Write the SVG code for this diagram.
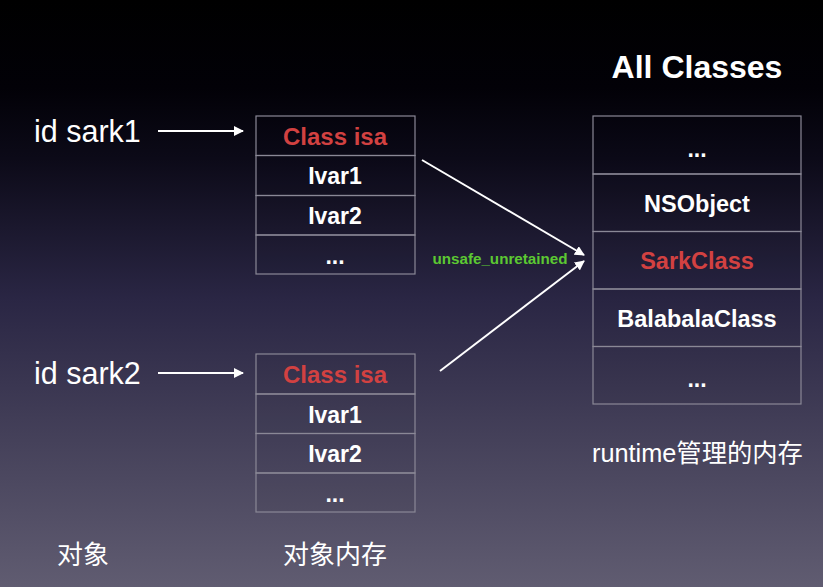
<svg xmlns="http://www.w3.org/2000/svg" width="823" height="587" viewBox="0 0 823 587">
<defs>
<linearGradient id="bg" x1="0" y1="0" x2="0" y2="1">
<stop offset="0" stop-color="#000000"/>
<stop offset="0.15" stop-color="#020107"/>
<stop offset="0.27" stop-color="#0c0a18"/>
<stop offset="0.51" stop-color="#2a2644"/>
<stop offset="0.75" stop-color="#45415a"/>
<stop offset="1" stop-color="#605c71"/>
</linearGradient>
<marker id="ah" viewBox="0 0 10 10" refX="9" refY="5" markerWidth="10" markerHeight="10" markerUnits="userSpaceOnUse" orient="auto">
<path d="M0,0 L10,5 L0,10 Z" fill="#ffffff"/>
</marker>
<style>
.cell{fill:rgba(0,0,0,0.03);stroke:#8a8896;stroke-width:1.2}
.b{font-family:"Liberation Sans",Arial,sans-serif;font-weight:bold;text-anchor:middle;fill:#ffffff}
.red{fill:#d24141}
.l{font-family:"Liberation Sans","Noto Sans CJK SC",sans-serif;fill:#ffffff}
.conn{stroke:#ffffff;stroke-width:2;fill:none;marker-end:url(#ah)}
</style>
</defs>
<rect width="823" height="587" fill="url(#bg)"/>
<text x="697" y="78" class="b" font-size="32">All Classes</text>

<g id="label-sark1"><text x="34" y="142" class="l" font-size="30.5">id sark1</text></g>
<g id="label-sark2"><text x="34" y="384" class="l" font-size="30.5">id sark2</text></g>

<g id="obj1">
<rect x="256" y="116" width="159" height="39.5" class="cell"/>
<rect x="256" y="155.5" width="159" height="40" class="cell"/>
<rect x="256" y="195.5" width="159" height="39.5" class="cell"/>
<rect x="256" y="235" width="159" height="39" class="cell"/>
<text x="335" y="145" class="b red" font-size="24">Class isa</text>
<text x="335" y="184" class="b" font-size="23">Ivar1</text>
<text x="335" y="224" class="b" font-size="23">Ivar2</text>
<text x="335" y="264" class="b" font-size="23">...</text>
</g>

<g id="obj2">
<rect x="256" y="354" width="159" height="40" class="cell"/>
<rect x="256" y="394" width="159" height="39.5" class="cell"/>
<rect x="256" y="433.5" width="159" height="39.5" class="cell"/>
<rect x="256" y="473" width="159" height="39" class="cell"/>
<text x="335" y="383" class="b red" font-size="24">Class isa</text>
<text x="335" y="423" class="b" font-size="23">Ivar1</text>
<text x="335" y="462" class="b" font-size="23">Ivar2</text>
<text x="335" y="502" class="b" font-size="23">...</text>
</g>

<g id="classes">
<rect x="593" y="116" width="208" height="58" class="cell"/>
<rect x="593" y="174" width="208" height="57.5" class="cell"/>
<rect x="593" y="231.5" width="208" height="57.5" class="cell"/>
<rect x="593" y="289" width="208" height="57.5" class="cell"/>
<rect x="593" y="346.5" width="208" height="57.5" class="cell"/>
<text x="697" y="157" class="b" font-size="23">...</text>
<text x="697" y="212" class="b" font-size="23.5">NSObject</text>
<text x="697" y="269" class="b red" font-size="23.5">SarkClass</text>
<text x="697" y="327" class="b" font-size="23.5">BalabalaClass</text>
<text x="697" y="387" class="b" font-size="23">...</text>
</g>

<g id="connectors">
<line x1="158" y1="131" x2="243" y2="131" class="conn"/>
<line x1="158" y1="373" x2="243" y2="373" class="conn"/>
<line x1="422" y1="160" x2="584" y2="255" class="conn"/>
<line x1="440" y1="371" x2="584" y2="261" class="conn"/>
<text x="500" y="264" class="b" font-size="15.2" style="fill:#5cc832">unsafe_unretained</text>
</g>

<text x="592" y="462" class="l" font-size="25.3">runtime管理的内存</text>
<text x="57" y="564" class="l" font-size="26">对象</text>
<text x="283" y="564" class="l" font-size="26">对象内存</text>
</svg>
